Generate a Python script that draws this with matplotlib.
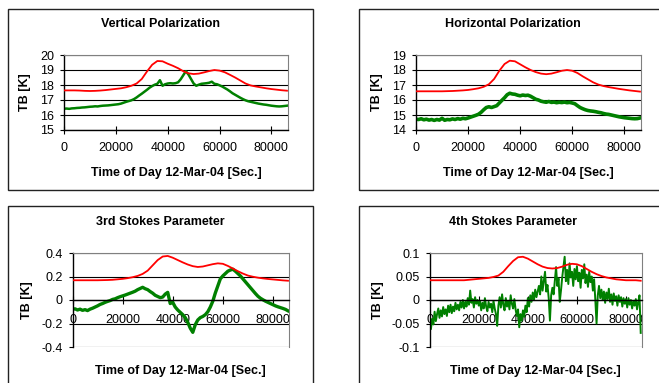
import numpy as np
import matplotlib
matplotlib.use('Agg')
import matplotlib.pyplot as plt
from matplotlib.patches import Rectangle

plt.rcParams['font.family'] = ['Liberation Sans', 'DejaVu Sans']
plt.rcParams['font.size'] = 9

# ---- data (time of day in seconds) ----
t_red = np.arange(0, 86001, 2000)     # 44 samples
t_grn = np.arange(0, 86001, 1000)     # 87 samples
t_grn4 = np.arange(0, 86001, 500)     # 173 samples

x_ticks = [0, 20000, 40000, 60000, 80000]
x_tick_labels = ['0', '20000', '40000', '60000', '80000']

titles = ['Vertical Polarization', 'Horizontal Polarization',
          '3rd Stokes Parameter', '4th Stokes Parameter']

v_red = [17.64, 17.64, 17.64, 17.63, 17.61, 17.60, 17.61, 17.63, 17.66, 17.70,
         17.74, 17.78, 17.85, 17.95, 18.10, 18.40, 18.90, 19.35, 19.60, 19.58,
         19.42, 19.28, 19.12, 18.92, 18.78, 18.73, 18.76, 18.84, 18.93, 19.00,
         18.96, 18.85, 18.68, 18.50, 18.30, 18.10, 17.97, 17.90, 17.84, 17.78,
         17.73, 17.69, 17.65, 17.62]
v_grn = [16.42, 16.43, 16.41, 16.44, 16.45, 16.47, 16.48, 16.50, 16.51, 16.53,
         16.55, 16.56, 16.58, 16.57, 16.60, 16.62, 16.63, 16.64, 16.66, 16.68,
         16.70, 16.72, 16.76, 16.82, 16.88, 16.93, 16.98, 17.06, 17.17, 17.30,
         17.42, 17.55, 17.68, 17.82, 17.93, 18.02, 18.08, 18.32, 17.95, 18.05,
         18.10, 18.12, 18.10, 18.12, 18.18, 18.38, 18.65, 18.92, 18.70, 18.40,
         18.10, 17.95, 18.02, 18.08, 18.10, 18.12, 18.15, 18.22, 18.08, 18.05,
         17.98, 17.90, 17.80, 17.70, 17.58, 17.45, 17.35, 17.25, 17.15, 17.06,
         16.98, 16.92, 16.88, 16.84, 16.80, 16.76, 16.73, 16.70, 16.68, 16.65,
         16.62, 16.60, 16.58, 16.57, 16.58, 16.60, 16.62]

h_red = [16.58, 16.58, 16.58, 16.58, 16.58, 16.58, 16.59, 16.60, 16.62, 16.64,
         16.67, 16.72, 16.78, 16.88, 17.05, 17.40, 17.95, 18.40, 18.62, 18.58,
         18.38, 18.18, 18.00, 17.86, 17.76, 17.72, 17.76, 17.85, 17.95, 18.00,
         17.95, 17.80, 17.58, 17.38, 17.18, 17.03, 16.93, 16.86, 16.80, 16.74,
         16.69, 16.64, 16.60, 16.56]
h_grn = [14.72, 14.70, 14.75, 14.68, 14.72, 14.66, 14.70, 14.64, 14.70, 14.66,
         14.78, 14.65, 14.70, 14.68, 14.74, 14.70, 14.76, 14.72, 14.78, 14.75,
         14.80, 14.86, 14.92, 14.98, 15.05, 15.18, 15.35, 15.50, 15.55, 15.50,
         15.56, 15.62, 15.80, 15.98, 16.15, 16.35, 16.45, 16.40, 16.38, 16.32,
         16.28, 16.33, 16.30, 16.32, 16.25, 16.15, 16.05, 16.00, 15.92, 15.88,
         15.85, 15.90, 15.84, 15.86, 15.82, 15.85, 15.83, 15.86, 15.82, 15.84,
         15.80, 15.75, 15.62, 15.50, 15.42, 15.35, 15.30, 15.27, 15.25, 15.22,
         15.18, 15.15, 15.10, 15.06, 15.04, 15.00, 14.96, 14.92, 14.88, 14.85,
         14.82, 14.80, 14.78, 14.76, 14.75, 14.76, 14.80]

s3_red = [0.168, 0.168, 0.168, 0.168, 0.168, 0.168, 0.169, 0.170, 0.172, 0.176,
          0.180, 0.186, 0.194, 0.205, 0.222, 0.250, 0.295, 0.340, 0.370, 0.375,
          0.360, 0.340, 0.320, 0.302, 0.288, 0.281, 0.285, 0.295, 0.305, 0.312,
          0.308, 0.290, 0.268, 0.245, 0.225, 0.208, 0.198, 0.190, 0.184, 0.179,
          0.175, 0.171, 0.167, 0.164]
s3_grn = [-0.080, -0.075, -0.085, -0.078, -0.088, -0.082, -0.090, -0.078, -0.070, -0.060,
          -0.050, -0.038, -0.030, -0.020, -0.012, -0.005, 0.005, 0.010, 0.020, 0.028,
          0.035, 0.042, 0.050, 0.058, 0.066, 0.075, 0.088, 0.098, 0.108, 0.096,
          0.088, 0.072, 0.058, 0.040, 0.030, 0.020, 0.025, 0.050, 0.065, -0.030,
          -0.020, -0.060, -0.085, -0.105, -0.125, -0.150, -0.190, -0.240, -0.275, -0.210,
          -0.170, -0.150, -0.140, -0.125, -0.100, -0.060, -0.010, 0.060, 0.120, 0.180,
          0.205, 0.225, 0.245, 0.255, 0.262, 0.245, 0.225, 0.205, 0.180, 0.155,
          0.130, 0.105, 0.080, 0.055, 0.032, 0.015, 0.002, -0.010, -0.020, -0.030,
          -0.040, -0.050, -0.058, -0.065, -0.072, -0.080, -0.092]

s4_red = [0.042, 0.042, 0.042, 0.042, 0.042, 0.042, 0.042, 0.042, 0.043, 0.044,
          0.045, 0.046, 0.047, 0.049, 0.052, 0.060, 0.072, 0.083, 0.091, 0.092,
          0.088, 0.082, 0.076, 0.071, 0.068, 0.067, 0.068, 0.071, 0.075, 0.077,
          0.076, 0.072, 0.066, 0.060, 0.055, 0.051, 0.048, 0.046, 0.044, 0.043,
          0.042, 0.042, 0.042, 0.041]
s4_grn = [-0.030, -0.062, -0.040, -0.052, -0.025, -0.045, -0.030, -0.018, -0.038, -0.022,
          -0.035, -0.015, -0.030, -0.020, -0.034, -0.012, -0.026, -0.010, -0.028, -0.014,
          -0.024, -0.006, -0.020, -0.010, -0.022, -0.004, -0.016, 0.000, -0.018, -0.004,
          -0.014, 0.004, -0.010, 0.020, -0.006, 0.002, -0.016, 0.006, -0.008, 0.000,
          -0.012, -0.002, -0.022, -0.006, -0.018, 0.004, -0.014, -0.024, -0.004, -0.016,
          -0.008, -0.026, -0.002, -0.018, -0.030, -0.055, -0.012, 0.006, -0.016, 0.012,
          -0.010, -0.022, 0.004, -0.014, -0.002, -0.020, 0.010, -0.008, -0.018, 0.002,
          -0.020, -0.034, -0.020, -0.058, -0.030, -0.044, -0.022, -0.036, -0.012, -0.026,
          0.004, -0.014, 0.010, -0.004, 0.016, 0.000, 0.022, 0.006, 0.018, 0.030,
          0.012, 0.050, 0.020, 0.040, 0.060, 0.018, 0.032, 0.004, -0.044, 0.010,
          0.026, 0.012, 0.040, 0.070, 0.030, 0.046, -0.004, 0.020, 0.048, 0.070,
          0.092, 0.040, 0.064, 0.034, 0.078, 0.048, 0.060, 0.030, 0.066, 0.044,
          0.072, 0.040, 0.058, 0.026, 0.064, 0.046, 0.076, 0.036, 0.054, 0.028,
          0.060, 0.038, 0.050, 0.020, 0.044, 0.000, -0.050, 0.010, 0.030, 0.004,
          0.022, 0.000, 0.018, -0.006, 0.016, 0.002, 0.024, -0.004, 0.012, -0.010,
          0.014, -0.002, 0.008, -0.012, 0.010, -0.004, 0.006, -0.014, 0.004, -0.008,
          0.002, -0.016, 0.004, -0.010, 0.000, -0.018, -0.002, -0.012, 0.002, -0.020,
          -0.004, 0.010, -0.070]

y_ticks = [[15, 16, 17, 18, 19, 20],
           [14, 15, 16, 17, 18, 19],
           [-0.4, -0.2, 0, 0.2, 0.4],
           [-0.1, -0.05, 0, 0.05, 0.1]]
y_tick_labels = [['15', '16', '17', '18', '19', '20'],
                 ['14', '15', '16', '17', '18', '19'],
                 ['-0.4', '-0.2', '0', '0.2', '0.4'],
                 ['-0.1', '-0.05', '0', '0.05', '0.1']]

W, H = 659, 383
fig = plt.figure(figsize=(W / 100, H / 100), dpi=100)
fig.patch.set_facecolor('white')

# plot areas in pixels: left, right, top, bottom
areas = [(64, 288, 55, 130), (416, 641, 55, 130),
         (72.5, 289, 253, 347), (429.7, 641.7, 253, 347)]
# outer chart boxes in pixels: left, right, top, bottom
boxes = [(8, 313, 9, 190), (359, 667, 9, 190),
         (8, 313, 206, 392), (359, 667, 206, 392)]
title_y = [24, 24, 222, 222]
xlabel_y = [173, 173, 371, 371]
ylabel_x = [25, 377, 27, 378]

reds = [v_red, h_red, s3_red, s4_red]
greens = [(t_grn, v_grn, 1.8), (t_grn, h_grn, 2.6), (t_grn, s3_grn, 2.4), (t_grn4, s4_grn, 1.4)]

for i in range(4):
    l, r, tp, b = boxes[i]
    fig.patches.append(Rectangle((l / W, 1 - b / H), (r - l) / W, (b - tp) / H,
                                 transform=fig.transFigure, fill=False,
                                 edgecolor='#222222', linewidth=1.0))
    fig.text((l + r) / 2 / W, 1 - title_y[i] / H, titles[i],
             ha='center', va='center', fontweight='bold', fontsize=9)

    l, r, tp, b = areas[i]
    ax = fig.add_axes([l / W, 1 - b / H, (r - l) / W, (b - tp) / H])
    ax.set_facecolor('white')

    tg, vg, lwg = greens[i]
    ax.plot(t_red, reds[i], color='#ff0000', linewidth=1.3, zorder=3)
    ax.plot(tg, vg, color='#008000', linewidth=lwg, zorder=2)

    ax.set_xlim(0, 86400)
    ax.set_ylim(y_ticks[i][0], y_ticks[i][-1])
    ax.set_xticks(x_ticks)
    ax.set_xticklabels(x_tick_labels)
    ax.set_yticks(y_ticks[i])
    ax.set_yticklabels(y_tick_labels[i])
    ax.yaxis.grid(True, color='black', linewidth=0.8)
    ax.set_axisbelow(True)

    for s in ['top', 'right']:
        ax.spines[s].set_color('#808080')
        ax.spines[s].set_linewidth(0.8)
    ax.spines['left'].set_linewidth(1.0)
    ax.spines['bottom'].set_linewidth(1.0)

    ax.tick_params(axis='y', direction='out', length=3, width=0.8, pad=4, labelsize=9)
    if i < 2:
        ax.tick_params(axis='x', direction='inout', length=6, width=0.8, pad=6, labelsize=9)
    else:
        # Excel style: category axis crosses at zero
        ax.spines['bottom'].set_position(('data', 0))
        ax.tick_params(axis='x', direction='inout', length=6, width=0.8, pad=7, labelsize=9)

    fig.text((l + r) / 2 / W, 1 - xlabel_y[i] / H, 'Time of Day 12-Mar-04 [Sec.]',
             ha='center', va='center', fontweight='bold', fontsize=9)
    fig.text(ylabel_x[i] / W, 1 - (tp + b) / 2 / H, 'TB [K]', rotation=90,
             ha='center', va='center', fontweight='bold', fontsize=9)

fig.savefig('out.png', dpi=100)
plt.close(fig)
